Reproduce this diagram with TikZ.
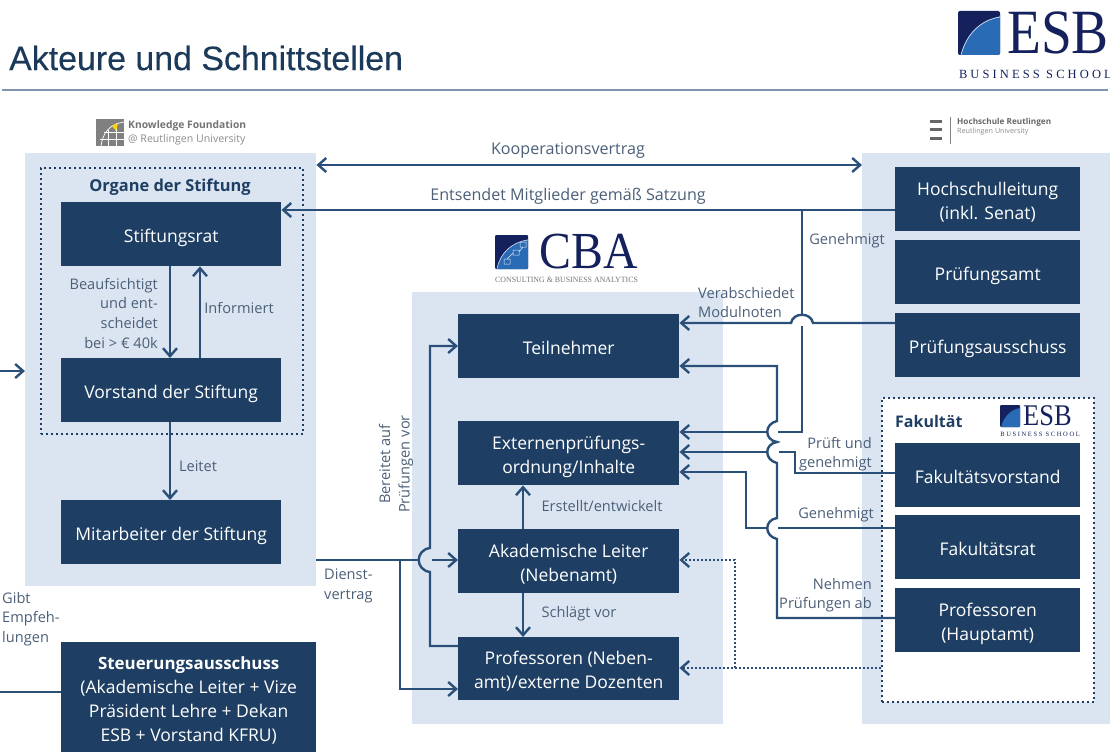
\documentclass[tikz,border=0pt]{standalone}
\usepackage{fontspec}
\setmainfont{Open Sans}
\newfontfamily\titlefont[FakeBold=0.3]{Liberation Sans}
\newfontfamily\serifl{Liberation Serif}
\newfontfamily\serifsp[LetterSpace=25]{Liberation Serif}
\usetikzlibrary{arrows.meta}
\definecolor{boxc}{HTML}{1E3F63}
\definecolor{bgc}{HTML}{DBE5F1}
\definecolor{linec}{HTML}{2A4F78}
\definecolor{labc}{HTML}{4B5F78}
\definecolor{navy}{HTML}{14215C}
\definecolor{logob}{HTML}{2A6BB5}
\tikzset{
  x=1pt,y=-1pt,
  tagbox/.style={fill=boxc,text=white,inner sep=0pt,align=center,font=\fontsize{17.5}{24}\selectfont},
  pad/.style={fill=bgc,inner sep=0pt},
  dotbox/.style={draw=boxc,line width=2pt,dash pattern=on 2pt off 3pt,inner sep=0pt},
  conn/.style={draw=linec,line width=2.4pt},
  arr/.style={conn,-{Straight Barb[length=8pt,width=14pt,line width=2.4pt]}},
  dbl/.style={conn,{Straight Barb[length=8pt,width=14pt,line width=2.4pt]}-{Straight Barb[length=8pt,width=14pt,line width=2.4pt]}},
  dotarr/.style={arr,dash pattern=on 2pt off 2pt},
  lab/.style={text=labc,inner sep=0pt,font=\fontsize{14.6}{19.6}\selectfont},
  labb/.style={text=labc,inner sep=0pt,font=\fontsize{16.1}{20}\selectfont},
  head/.style={text=boxc,inner sep=0pt,font=\fontsize{16}{20}\selectfont\bfseries},
}
\newcommand{\sttop}{\rule{0pt}{21pt}}
\newcommand{\stbot}{\rule[-5pt]{0pt}{5pt}}
\newcommand{\boxat}[6]{\node[tagbox,minimum width=#3 pt-#2 pt,minimum height=#5 pt-#4 pt,anchor=north west] (#1) at (#2,#4) {\sttop #6\stbot};}
\begin{document}
\begin{tikzpicture}
\useasboundingbox (0,0) rectangle (1110,752);
% backgrounds
\node[pad,anchor=north west,minimum width=291pt,minimum height=433pt] (padl) at (25,153) {};
\node[pad,anchor=north west,minimum width=311pt,minimum height=432pt] (padc) at (412,292) {};
\node[pad,anchor=north west,minimum width=248pt,minimum height=571pt] (padr) at (862,153) {};
\node[dotbox,anchor=north west,minimum width=262pt,minimum height=266pt] (org) at (40,167) {};
\node[dotbox,anchor=north west,fill=white,minimum width=212pt,minimum height=304pt] (fak) at (881,397) {};
% title
\node[anchor=west,inner sep=0pt,text=boxc!90!black,font=\titlefont\fontsize{33.9}{38}\selectfont] (title) at (9,58) {Akteure und Schnittstellen};
\coordinate (ruleL) at (2,90); \coordinate (ruleR) at (1108,90);
\draw[line width=1.5pt,color=linec!60] (ruleL) -- (ruleR);
% boxes
\boxat{srat}{61}{281}{202}{266}{Stiftungsrat}
\boxat{vor}{61}{281}{358}{422}{Vorstand der Stiftung}
\boxat{mit}{61}{281}{500}{564}{Mitarbeiter der Stiftung}
\boxat{steu}{61}{316}{642}{752}{{\bfseries\fontsize{16.9}{24}\selectfont Steuerungsausschuss}\\(Akademische Leiter + Vize\\Präsident Lehre + Dekan\\ESB + Vorstand KFRU)}
\boxat{teil}{458}{679}{314}{378}{Teilnehmer}
\boxat{ext}{458}{679}{421}{485}{Externenprüfungs-\\ordnung/Inhalte}
\boxat{aka}{458}{679}{529}{593}{Akademische Leiter\\(Nebenamt)}
\boxat{prn}{458}{679}{637}{700}{Professoren (Neben-\\amt)/externe Dozenten}
\boxat{hsl}{895}{1080}{167}{231}{Hochschulleitung\\(inkl. Senat)}
\boxat{pamt}{895}{1080}{240}{304}{Prüfungsamt}
\boxat{paus}{895}{1080}{313}{377}{Prüfungsausschuss}
\boxat{fvor}{895}{1080}{443}{507}{Fakultätsvorstand}
\boxat{frat}{895}{1080}{515}{579}{Fakultätsrat}
\boxat{prh}{895}{1080}{588}{652}{Professoren\\(Hauptamt)}
% connectors
\draw[dbl] (padl.east |- 0,165) -- (padr.west |- 0,165);
\draw[arr] (hsl.west |- 0,210) -- (srat.east |- 0,210);
\draw[arr] (srat.south -| 170,0) -- (vor.north -| 170,0);
\draw[arr] (vor.north -| 200,0) -- (srat.south -| 200,0);
\draw[arr] (vor.south -| 170,0) -- (mit.north -| 170,0);
\draw[arr] (aka.north -| 523,0) -- (ext.south -| 523,0);
\draw[arr] (aka.south -| 523,0) -- (prn.north -| 523,0);
% Genehmigt (Hochschulleitung)
\draw[conn] (802,210) -- (802,315);
\draw[conn] (802,326) -- (802,432) -- (778,432);
\draw[arr] (767,432) -- (ext.east |- 0,432);
% Pruefungsausschuss
\draw[arr] (paus.west |- 0,323) -- (813,323) .. controls (811,312) and (793,312) .. (791,323) -- (teil.east |- 0,323);
% Nehmen Pruefungen ab
\draw[arr] (prh.west |- 0,618) -- (777,618) -- (777,539) .. controls (764,536) and (764,520) .. (777,518) -- (777,463)
  .. controls (764,460) and (764,444) .. (777,442) .. controls (764,440) and (764,424) .. (777,421) -- (777,366) -- (teil.east |- 0,366);
% Prueft und genehmigt
\draw[conn] (fvor.west |- 0,473) -- (795,473) -- (795,452) -- (779,452);
\draw[arr] (767,452) -- (ext.east |- 0,452);
% Genehmigt Fakultaetsrat
\draw[conn] (frat.west |- 0,528) -- (778,528);
\draw[arr] (767,528) -- (746,528) -- (746,472) -- (ext.east |- 0,472);
% dotted
\draw[dotarr] (fak.west |- 0,668) -- (prn.east |- 0,668);
\draw[dotarr] (735,668) -- (735,560) -- (aka.east |- 0,560);
% Dienstvertrag
\draw[conn] (padl.east |- 0,560) -- (418,560);
\draw[arr] (432,560) -- (aka.west |- 0,560);
\draw[arr] (400,560) -- (400,689) -- (prn.west |- 0,689);
\draw[arr] (prn.west |- 0,646) -- (430,646) -- (430,572) .. controls (415,570) and (415,550) .. (430,548) -- (430,346) -- (teil.west |- 0,346);
% left stubs
\coordinate (lstub) at (0,371);
\draw[arr] (lstub) -- (padl.west |- 0,371);
\coordinate (sstub) at (0,692);
\draw[conn] (sstub) -- (steu.west |- 0,692);
% labels
\node[labb] (l1) at (568,151) {Kooperationsvertrag};
\node[labb] (l2) at (568,196) {Entsendet Mitglieder gemäß Satzung};
\node[head,font=\fontsize{16.4}{20}\selectfont\bfseries] (l3) at (170,187) {Organe der Stiftung};
\node[lab,align=right,anchor=north east] (l4) at (158,278) {Beaufsichtigt\\und ent-\\scheidet\\bei > € 40k};
\node[lab] (l5) at (239,308) {Informiert};
\node[lab] (l6) at (198,466) {Leitet};
\node[lab,align=left,anchor=north west] (l7) at (324,569) {Dienst-\\vertrag};
\node[lab,align=left,anchor=north west] (l8) at (2,592) {Gibt\\Empfeh-\\lungen};
\node[lab,align=center,rotate=90] (l9) at (396,464) {Bereitet auf\\Prüfungen vor};
\node[lab] (l10) at (602,506) {Erstellt/entwickelt};
\node[lab] (l11) at (579,614) {Schlägt vor};
\node[lab] (l12) at (847,241) {Genehmigt};
\node[lab,align=left,anchor=north west] (l13) at (698,287) {Verabschiedet\\Modulnoten};
\node[lab,align=right,anchor=north east] (l14) at (872,437) {Prüft und\\genehmigt};
\node[lab] (l15) at (836,515) {Genehmigt};
\node[lab,align=right,anchor=north east] (l16) at (872,578) {Nehmen\\Prüfungen ab};
\node[head,anchor=west] (l17) at (895,421) {Fakultät};
% ESB logo
\fill[navy,rounded corners=2pt] (958,11) rectangle (1000,55);
\fill[logob,rounded corners=2pt] (1000,17) -- (1000,55) -- (961,55) .. controls (966,35) and (980,20) .. (1000,17) -- cycle;
\draw[white!80!logob,line width=.7pt] (961,55) .. controls (966,35) and (980,20) .. (1000,17);
\node[anchor=west,inner sep=0pt,text=navy,xscale=.88,font=\serifl\fontsize{63}{63}\selectfont] (esb) at (1007,33) {ESB};
\node[anchor=east,inner sep=0pt,text=navy,font=\serifsp\fontsize{12.5}{13}\selectfont] (esbs) at (1112,74) {BUSINESS SCHOOL};
% small ESB logo
\fill[navy,rounded corners=1pt] (1000,405) rectangle (1020,427);
\fill[logob,rounded corners=1pt] (1020,408) -- (1020,427) -- (1001,427) .. controls (1004,417) and (1010,410) .. (1020,408) -- cycle;
\node[anchor=west,inner sep=0pt,text=navy,xscale=.88,font=\serifl\fontsize{30}{30}\selectfont] (esb2) at (1023,416) {ESB};
\node[anchor=east,inner sep=0pt,text=navy,font=\serifsp\fontsize{6.5}{7}\selectfont] (esbs2) at (1080,434.5) {BUSINESS SCHOOL};
% CBA logo
\fill[navy,rounded corners=1pt] (495,235) rectangle (528,269);
\fill[logob,rounded corners=1pt] (528,240) -- (528,269) -- (497,269) .. controls (500,253) and (512,242) .. (528,240) -- cycle;
\draw[white!80!logob,line width=.6pt] (497,269) .. controls (500,253) and (512,242) .. (528,240);
\draw[white!85!logob,line width=.5pt] (504,259) rectangle (510,264) (513,250) rectangle (519,255) (520,242) rectangle (526,247) (507,259) -- (513,253) (519,252) -- (523,247);
\node[anchor=west,inner sep=0pt,text=navy,font=\serifl\fontsize{52}{52}\selectfont,xscale=.92] (cba) at (539,252) {CBA};
\node[anchor=west,inner sep=0pt,text=black!55,xscale=.985,font=\serifl\fontsize{8}{9}\selectfont] (cbas) at (495,280) {CONSULTING \& BUSINESS ANALYTICS};
% Knowledge Foundation
\fill[black!50] (96,119) rectangle (124,146);
\draw[white,line width=.7pt] (101,146) .. controls (103,132) and (110,124) .. (124,122);
\draw[white,line width=.7pt] (100,139) -- (124,139) (104,132) -- (124,132) (108,130) -- (108,146) (116,123) -- (116,146);
\fill[yellow!70!orange] (112,126) -- (118,123) -- (116,131) -- cycle;
\node[anchor=west,inner sep=0pt,text=black!55,font=\fontsize{10.3}{12}\selectfont\bfseries] (kf1) at (128,126) {Knowledge Foundation};
\node[anchor=west,inner sep=0pt,text=black!45,font=\fontsize{10.6}{12}\selectfont] (kf2) at (128,140) {@ Reutlingen University};
% Hochschule Reutlingen
\foreach \yy in {121,129,138}{\fill[black!60] (930,\yy-1.5) rectangle (942,\yy+1.5);}
\draw[black!50,line width=1pt] (950,117) -- (950,144);
\node[anchor=west,inner sep=0pt,text=black!60,font=\fontsize{8.2}{9}\selectfont\bfseries] (hr1) at (957,122) {Hochschule Reutlingen};
\node[anchor=west,inner sep=0pt,text=black!45,font=\fontsize{7.2}{8}\selectfont] (hr2) at (957,132) {Reutlingen University};
\end{tikzpicture}
\end{document}
